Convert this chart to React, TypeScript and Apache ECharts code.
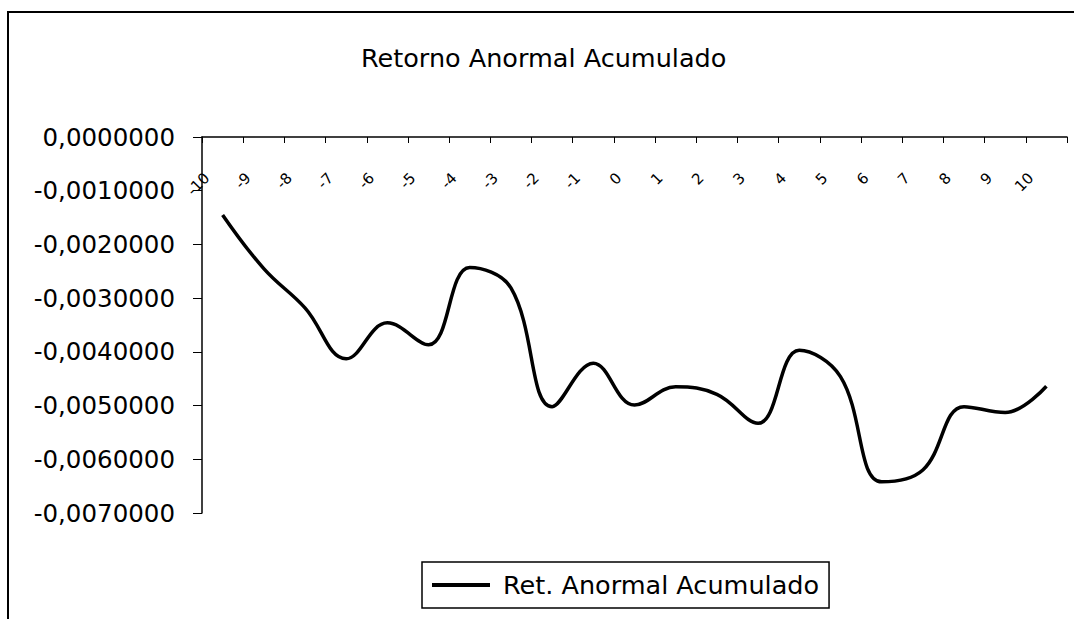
import React, { useEffect, useRef } from "react";
import * as echarts from "echarts";

const categories: string[] = [
  "-10", "-9", "-8", "-7", "-6", "-5", "-4", "-3", "-2", "-1", "0",
  "1", "2", "3", "4", "5", "6", "7", "8", "9", "10",
];

const retAnormalAcumulado: number[] = [
  -0.00145, -0.00245, -0.00318, -0.00413, -0.00346, -0.00387, -0.00243,
  -0.00281, -0.00502, -0.00421, -0.00499, -0.00465, -0.00479, -0.00533,
  -0.00397, -0.00446, -0.00642, -0.0062, -0.00502, -0.00513, -0.00464,
];

const titleText = "Retorno Anormal Acumulado";
const seriesName = "Ret. Anormal Acumulado";

const FONT = "DejaVu Sans";

export default function App() {
  const ref = useRef<HTMLDivElement>(null);

  useEffect(() => {
    document.body.style.margin = "0";
    if (!ref.current) return;
    const chart = echarts.init(ref.current, undefined, { renderer: "svg" });
    chart.setOption({
      animation: false,
      backgroundColor: "#ffffff",
      title: {
        text: titleText,
        left: 356,
        top: 40,
        textStyle: {
          fontFamily: FONT,
          fontSize: 25.5,
          fontWeight: "normal",
          color: "#000",
        },
      },
      graphic: [
        {
          type: "rect",
          shape: { x: 8, y: 12, width: 1200, height: 800 },
          style: { fill: "none", stroke: "#000", lineWidth: 2 },
          silent: true,
        },
      ],
      legend: {
        left: 422,
        top: 562,
        orient: "horizontal",
        padding: [10, 10, 10, 10],
        borderColor: "#000",
        borderWidth: 1.5,
        icon: "rect",
        itemWidth: 58,
        itemHeight: 4,
        textStyle: { fontFamily: FONT, fontSize: 25.5, color: "#000", padding: [0, 0, 0, 8] },
        data: [{ name: seriesName, itemStyle: { color: "#000" } }],
      },
      grid: { left: 202, top: 137, right: 7, bottom: 106, containLabel: false },
      xAxis: {
        type: "category",
        data: categories,
        position: "top",
        boundaryGap: true,
        axisLine: { onZero: false, lineStyle: { color: "#000", width: 1.5 } },
        axisTick: { show: true, length: 6, inside: true, lineStyle: { color: "#000" } },
        axisLabel: {
          inside: true,
          interval: 0,
          rotate: -45,
          margin: 23,
          padding: [0, 22, 0, 0],
          fontFamily: FONT,
          fontSize: 15,
          color: "#000",
          hideOverlap: false,
        },
        splitLine: { show: false },
      },
      yAxis: {
        type: "value",
        min: -0.007,
        max: 0,
        interval: 0.001,
        axisLine: { show: true, lineStyle: { color: "#000", width: 1.5 } },
        axisTick: { show: true, length: 9, lineStyle: { color: "#000" } },
        splitLine: { show: false },
        axisLabel: {
          margin: 27,
          fontFamily: FONT,
          fontSize: 24.5,
          color: "#000",
          formatter: (v: number) => {
            const s = Math.abs(v) < 1e-12 ? "0,0000000" : v.toFixed(7).replace(".", ",");
            return s;
          },
        },
      },
      series: [
        {
          name: seriesName,
          type: "line",
          data: retAnormalAcumulado,
          smooth: 0.4,
          symbol: "none",
          lineStyle: { color: "#000", width: 3.5 },
          itemStyle: { color: "#000" },
        },
      ],
    });
    return () => chart.dispose();
  }, []);

  return <div ref={ref} style={{ width: 1074, height: 619 }} />;
}
